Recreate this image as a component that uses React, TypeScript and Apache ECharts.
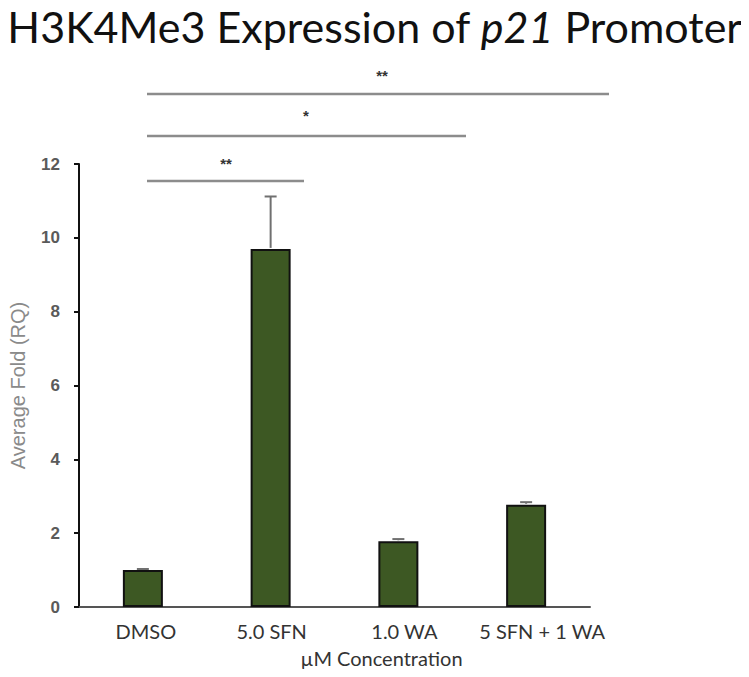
import React, { useEffect, useRef } from "react";
import * as echarts from "echarts";

const categories = ["DMSO", "5.0 SFN", "1.0 WA", "5 SFN + 1 WA"];
const means = [1.0, 9.7, 1.78, 2.77];
const errors = [0.03, 1.42, 0.06, 0.07];
const yTicks = { min: 0, max: 12, interval: 2 };
const sigLabels = ["**", "*", "**"];

export default function App() {
  const ref = useRef<HTMLDivElement>(null);
  useEffect(() => {
    if (!ref.current) return;
    const chart = echarts.init(ref.current, null, { renderer: "svg" });
    const lineStyle = { stroke: "#8c8c8c", lineWidth: 2.5 };
    const starStyle = { fill: "#333", fontSize: 15, fontFamily: "Liberation Sans", fontWeight: "bold" };
    const lbl = { fontFamily: "Lato", fontSize: 20, color: "#333" };
    const shifts = [6, 2, 12, 32];
    const rich: any = {};
    shifts.forEach((s, i) => {
      rich["c" + i] = { ...lbl, padding: [0, 0, 0, s] };
    });
    chart.setOption({
      animation: false,
      backgroundColor: "#ffffff",
      title: {
        text: "H3K4Me3 Expression of {i|p21} Promoter",
        left: "center",
        top: 0,
        textStyle: {
          fontFamily: "Lato",
          fontSize: 43,
          fontWeight: "normal",
          color: "#111",
          rich: { i: { fontFamily: "Lato", fontSize: 43, fontStyle: "italic", color: "#111" } },
        },
      },
      grid: { left: 79, right: 159, top: 164, bottom: 70, containLabel: false, outerBoundsMode: "none" },
      xAxis: {
        type: "category",
        data: categories,
        name: "\u00b5M Concentration",
        nameLocation: "middle",
        nameGap: 41,
        nameTextStyle: { ...lbl, padding: [0, 0, 0, 94] },
        axisLine: { lineStyle: { color: "#555", width: 2 } },
        axisTick: { show: false },
        axisLabel: {
          ...lbl,
          margin: 14,
          interval: 0,
          formatter: (v: string, i: number) => `{c${i}|${v}}`,
          rich,
        },
      },
      yAxis: {
        type: "value",
        min: yTicks.min,
        max: yTicks.max,
        interval: yTicks.interval,
        name: "Average Fold (RQ)",
        nameLocation: "middle",
        nameGap: 51,
        nameTextStyle: { fontFamily: "Liberation Sans", fontSize: 20, color: "#8a8a8a" },
        splitLine: { show: false },
        axisLine: { show: true, lineStyle: { color: "#111", width: 2 } },
        axisTick: { show: true, length: 5, lineStyle: { color: "#111", width: 2 } },
        axisLabel: { fontFamily: "Liberation Sans", fontSize: 17, fontWeight: "bold", color: "#5a5a5a", margin: 19 },
      },
      series: [
        {
          type: "bar",
          data: means,
          barWidth: 40,
          itemStyle: { color: "#3d5823", borderColor: "#111", borderWidth: 2 },
          z: 2,
        },
        {
          type: "custom",
          z: 3,
          data: means.map((m, i) => [i, m, m + errors[i]]),
          renderItem: (params: any, api: any) => {
            const x = api.value(0);
            const lo = api.coord([x, api.value(1)]);
            const hi = api.coord([x, api.value(2)]);
            const hw = 6;
            return {
              type: "group",
              children: [
                { type: "line", shape: { x1: lo[0], y1: lo[1] - 1, x2: hi[0], y2: hi[1] }, style: { stroke: "#707070", lineWidth: 2 } },
                { type: "line", shape: { x1: hi[0] - hw, y1: hi[1], x2: hi[0] + hw, y2: hi[1] }, style: { stroke: "#707070", lineWidth: 2 } },
              ],
            };
          },
        },
      ],
      graphic: [
        { type: "line", shape: { x1: 147, y1: 94, x2: 609, y2: 94 }, style: lineStyle },
        { type: "line", shape: { x1: 147, y1: 136, x2: 466, y2: 136 }, style: lineStyle },
        { type: "line", shape: { x1: 147, y1: 181, x2: 304, y2: 181 }, style: lineStyle },
        { type: "text", x: 382, y: 75, style: { ...starStyle, text: sigLabels[0], align: "center", verticalAlign: "middle" } },
        { type: "text", x: 306, y: 115, style: { ...starStyle, text: sigLabels[1], align: "center", verticalAlign: "middle" } },
        { type: "text", x: 226, y: 163, style: { ...starStyle, text: sigLabels[2], align: "center", verticalAlign: "middle" } },
      ],
    });
    return () => chart.dispose();
  }, []);
  return <div ref={ref} style={{ width: 749, height: 677, margin: -8 }} />;
}
